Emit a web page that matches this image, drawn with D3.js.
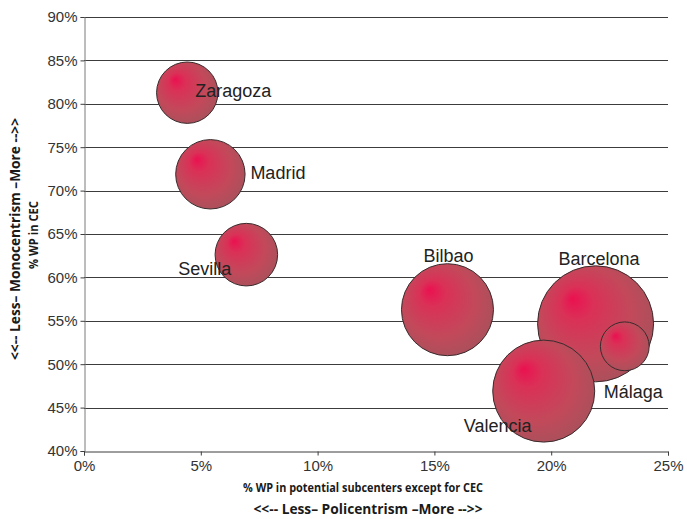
<!DOCTYPE html>
<html>
<head>
<meta charset="utf-8">
<script src="https://cdn.jsdelivr.net/npm/d3@7/dist/d3.min.js"></script>
<style>
  html, body { margin: 0; padding: 0; background: #fff; }
  svg { display: block; }
</style>
</head>
<body>
<div id="chart"></div>
<script>
// Metropolitan areas: share of workplaces in subcenters (x) vs. in the CEC (y)
const cities      = ["Zaragoza", "Madrid", "Sevilla", "Bilbao", "Barcelona", "Málaga", "Valencia"];
const subcenterWP = [0.0442, 0.0541, 0.0695, 0.1556, 0.2190, 0.2315, 0.1968];
const cecWP       = [0.8128, 0.7188, 0.6262, 0.5628, 0.5465, 0.5206, 0.4690];
const bubbleSize  = [28.0, 35.8, 29.1, 62.9, 100, 17.7, 77.3];

// label placement relative to the bubble centre: [dx, dy]
const labelPos = [
  [8, 4],       // Zaragoza
  [40, 5],      // Madrid
  [-68, 20],    // Sevilla
  [-24, -48],   // Bilbao
  [-37, -59],   // Barcelona
  [-21, 52],    // Málaga
  [-80, 41]     // Valencia
];

const xTicks = [0, 0.05, 0.10, 0.15, 0.20, 0.25];
const yTicks = [0.40, 0.45, 0.50, 0.55, 0.60, 0.65, 0.70, 0.75, 0.80, 0.85, 0.90];

const W = 687, H = 519;
const plot = { left: 84, right: 668, top: 17, bottom: 451 };

const svg = d3.select("#chart").append("svg")
  .attr("width", W).attr("height", H);

const x = d3.scaleLinear().domain([0, 0.25]).range([plot.left, plot.right]);
const y = d3.scaleLinear().domain([0.40, 0.90]).range([plot.bottom, plot.top]);
const r = d3.scaleSqrt().domain([0, 100]).range([0, 58]);

const pct = d3.format(".0%");

// bubble shading: bright spot upper-left fading to a darker rim lower-right
const defs = svg.append("defs");
const grad = defs.append("radialGradient")
  .attr("id", "bubbleFill")
  .attr("cx", "0.5").attr("cy", "0.5").attr("r", "0.72")
  .attr("fx", "0.3").attr("fy", "0.28");
grad.append("stop").attr("offset", "0").attr("stop-color", "#ea1150");
grad.append("stop").attr("offset", "0.2").attr("stop-color", "#da3157");
grad.append("stop").attr("offset", "0.55").attr("stop-color", "#c2495a");
grad.append("stop").attr("offset", "0.85").attr("stop-color", "#a4525b");
grad.append("stop").attr("offset", "1").attr("stop-color", "#84535a");

// horizontal gridlines
svg.append("g")
  .selectAll("line")
  .data(yTicks.slice(1))
  .join("line")
  .attr("x1", plot.left).attr("x2", plot.right)
  .attr("y1", d => Math.round(y(d)) + 0.5).attr("y2", d => Math.round(y(d)) + 0.5)
  .attr("stroke", "#3c3c3c").attr("stroke-width", 1);

// y axis
const yAxis = svg.append("g")
  .attr("transform", `translate(${plot.left + 0.5},0)`)
  .call(d3.axisLeft(y).tickValues(yTicks).tickFormat(pct).tickSize(4).tickPadding(3));
yAxis.select(".domain").attr("stroke", "#7a7a7a");
yAxis.selectAll(".tick line").attr("stroke", "#3c3c3c");
yAxis.selectAll(".tick text")
  .attr("font-family", "'Liberation Sans', Arial, sans-serif")
  .attr("font-size", 15).attr("fill", "#333");

// x axis
const xAxis = svg.append("g")
  .attr("transform", `translate(0,${Math.round(plot.bottom) + 0.5})`)
  .call(d3.axisBottom(x).tickValues(xTicks).tickFormat(pct).tickSize(4).tickPadding(5));
xAxis.select(".domain").attr("stroke", "#3c3c3c");
xAxis.selectAll(".tick line").attr("stroke", "#3c3c3c");
xAxis.selectAll(".tick text")
  .attr("font-family", "'Liberation Sans', Arial, sans-serif")
  .attr("font-size", 15).attr("fill", "#333");

// bubbles: larger ones drawn first so smaller ones stay visible
const data = cities.map((c, i) => ({
  city: c, xv: subcenterWP[i], yv: cecWP[i], size: bubbleSize[i], lp: labelPos[i]
}));
const order = data.slice().sort((a, b) => b.size - a.size);

svg.append("g")
  .selectAll("circle")
  .data(order)
  .join("circle")
  .attr("cx", d => x(d.xv))
  .attr("cy", d => y(d.yv))
  .attr("r", d => r(d.size))
  .attr("fill", "url(#bubbleFill)")
  .attr("stroke", "#3a2b2d")
  .attr("stroke-width", 1);

// city labels
svg.append("g")
  .selectAll("text")
  .data(data)
  .join("text")
  .attr("x", d => x(d.xv) + d.lp[0])
  .attr("y", d => y(d.yv) + d.lp[1])
  .attr("font-family", "'Liberation Sans', Arial, sans-serif")
  .attr("font-size", 18)
  .attr("fill", "#222")
  .text(d => d.city);

// axis titles
const titleFont = "'Open Sans', 'DejaVu Sans', sans-serif";
svg.append("text")
  .attr("x", 363).attr("y", 492)
  .attr("text-anchor", "middle")
  .attr("font-family", titleFont).attr("font-weight", "bold").attr("font-size", 11.5)
  .attr("textLength", 240).attr("lengthAdjust", "spacingAndGlyphs")
  .attr("fill", "#1a1a1a")
  .text("% WP in potential subcenters except for CEC");
svg.append("text")
  .attr("x", 368).attr("y", 514)
  .attr("text-anchor", "middle")
  .attr("font-family", titleFont).attr("font-weight", "bold").attr("font-size", 14.5)
  .attr("textLength", 229).attr("lengthAdjust", "spacingAndGlyphs")
  .attr("fill", "#1a1a1a")
  .text("<<-- Less\u2013 Policentrism \u2013More -->>");

svg.append("text")
  .attr("transform", "translate(38,235) rotate(-90)")
  .attr("text-anchor", "middle")
  .attr("font-family", titleFont).attr("font-weight", "bold").attr("font-size", 11.5)
  .attr("textLength", 68).attr("lengthAdjust", "spacingAndGlyphs")
  .attr("fill", "#1a1a1a")
  .text("% WP in CEC");
svg.append("text")
  .attr("transform", "translate(20,239) rotate(-90)")
  .attr("text-anchor", "middle")
  .attr("font-family", titleFont).attr("font-weight", "bold").attr("font-size", 14.5)
  .attr("textLength", 242).attr("lengthAdjust", "spacingAndGlyphs")
  .attr("fill", "#1a1a1a")
  .text("<<-- Less\u2013 Monocentrism \u2013More -->>");
</script>
</body>
</html>
